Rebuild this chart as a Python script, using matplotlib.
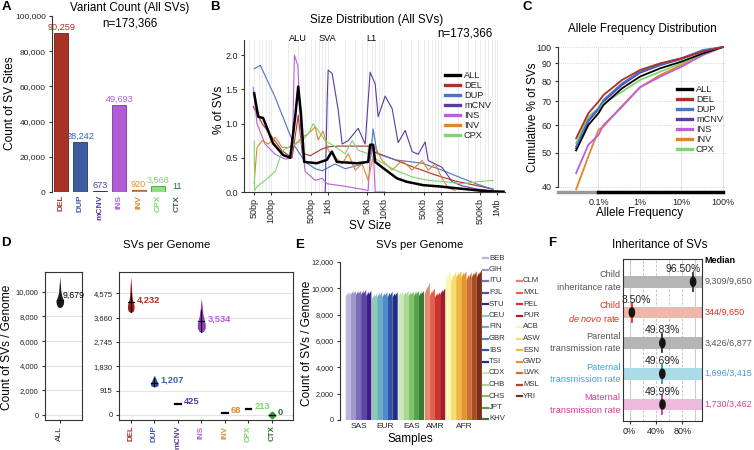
import numpy as np
import matplotlib.pyplot as plt
from matplotlib.lines import Line2D
from matplotlib.patches import Ellipse
from matplotlib.ticker import FuncFormatter, NullFormatter, NullLocator

plt.rcParams['font.family'] = ['Liberation Sans', 'DejaVu Sans']
plt.rcParams['mathtext.fontset'] = 'custom'
plt.rcParams['mathtext.rm'] = 'Liberation Sans'
plt.rcParams['mathtext.it'] = 'Liberation Sans:italic'
plt.rcParams['font.size'] = 6.5
plt.rcParams['axes.edgecolor'] = '#333333'
plt.rcParams['axes.linewidth'] = 0.8
plt.rcParams['xtick.color'] = '#333333'
plt.rcParams['ytick.color'] = '#333333'
plt.rcParams['xtick.labelcolor'] = '#222222'
plt.rcParams['ytick.labelcolor'] = '#222222'
plt.rcParams['xtick.major.size'] = 2.5
plt.rcParams['ytick.major.size'] = 2.5
plt.rcParams['xtick.major.pad'] = 2
plt.rcParams['ytick.major.pad'] = 2

#--------------------------------------------------------------#
# data
sv_types = ['DEL', 'DUP', 'mCNV', 'INS', 'INV', 'CPX', 'CTX']
sv_counts = [90259, 28242, 673, 49693, 920, 3568, 11]
sv_fill = ['#a93226', '#3c5da0', '#4b2d8c', '#b15bd6', '#e0862a', '#8fe07f', '#2e6b2e']
sv_edge = ['#6e1e18', '#233a6e', '#2e1a5e', '#7a3a99', '#9a5a1a', '#4e9a45', '#1e4a1e']
sv_text = ['#b03020', '#3c5da8', '#5b3a9e', '#b55fd8', '#e08a2c', '#79d66a', '#2f6e2f']

# panel B: size distribution (size in bp, % of SVs)
size_all = [50, 59, 72, 108, 163, 217, 266, 301, 336, 384, 644, 968, 1186, 1455, 3289, 5212,
            5649, 6383, 6934, 9603, 16790, 25000, 49000, 100000, 166000, 666000, 1300000]
pct_all = [1.44, 1.10, 1.08, 0.71, 0.54, 0.50, 1.10, 1.54, 1.15, 0.44, 0.42, 0.47, 0.59, 0.44, 0.42, 0.44,
           0.69, 0.69, 0.44, 0.35, 0.20, 0.15, 0.10, 0.08, 0.06, 0.01, 0.005]
size_del = [48, 69, 104, 157, 235, 301, 354, 490, 800, 1020, 1535, 3300, 5212, 5649, 6934, 15660,
            31330, 80000, 181000, 461000, 850000]
pct_del = [1.25, 1.0, 0.8, 0.6, 0.5, 1.12, 0.57, 0.53, 0.63, 0.66, 0.67, 0.67, 0.67, 0.65, 0.58, 0.47,
           0.37, 0.25, 0.16, 0.09, 0.04]
size_dup = [50, 64, 78, 118, 157, 200, 266, 400, 601, 800, 1358, 2042, 3467, 5649, 6383, 7516,
            15660, 47100, 106000, 240000, 461000, 850000]
pct_dup = [1.80, 1.85, 1.70, 1.38, 1.12, 0.90, 0.66, 0.44, 0.34, 0.31, 0.41, 0.34, 0.39, 0.46, 0.92, 0.56,
           0.47, 0.42, 0.32, 0.20, 0.11, 0.04]
size_mcnv = [903, 980, 1020, 1202, 1535, 1807, 2307, 3467, 4613, 5649, 6934, 7834, 10420, 13840,
             17700, 23560, 31330, 40000, 53200, 60100, 106000, 160000, 240000, 461000, 850000]
pct_mcnv = [0.0, 1.35, 1.78, 1.73, 1.20, 0.70, 0.75, 0.93, 0.70, 1.75, 1.58, 1.10, 1.40, 1.22,
            0.72, 0.90, 0.59, 0.55, 0.73, 0.46, 0.36, 0.15, 0.09, 0.04, 0.02]
size_ins = [48, 56, 78, 118, 177, 235, 258, 297, 340, 400, 601, 800, 980, 1807, 4083, 5212,
            5649, 6383, 6934, 10420]
pct_ins = [1.53, 1.0, 0.70, 0.55, 0.48, 0.50, 2.00, 1.84, 0.77, 0.30, 0.17, 0.20, 0.12, 0.09, 0.04, 0.02,
           0.5, 0.66, 0.0, 0.0]
size_inv = [50, 56, 69, 89, 118, 157, 200, 266, 354, 452, 601, 679, 832, 1020, 1358, 1807, 2307,
            3069, 4083, 5212, 6934, 9226, 13840, 20840, 31330, 47100, 60100, 80000, 106000, 136000, 181000]
pct_inv = [0.13, 0.65, 0.75, 0.70, 0.80, 0.65, 0.65, 0.70, 0.80, 0.85, 0.95, 0.76, 0.89, 0.61, 0.51, 0.41, 0.56,
           0.32, 0.41, 0.17, 0.66, 0.46, 0.32, 0.46, 0.32, 0.46, 0.32, 0.41, 0.20, 0.06, 0.02]
size_cpx = [50, 51, 56, 78, 118, 157, 200, 266, 354, 452, 554, 679, 903, 1358, 2042, 2716, 3467,
            5212, 7834, 15660, 31330, 60100, 120000, 240000, 461000, 850000]
pct_cpx = [0.74, 0.02, 0.08, 0.17, 0.30, 0.60, 0.65, 0.70, 0.75, 0.85, 1.00, 0.90, 0.75, 0.66, 0.56, 0.75, 0.61,
           0.56, 0.46, 0.32, 0.22, 0.17, 0.15, 0.12, 0.15, 0.17]
size_ticks = [50, 100, 500, 1000, 5000, 10000, 50000, 100000, 500000, 1000000]
size_labels = ['50bp', '100bp', '500bp', '1Kb', '5Kb', '10Kb', '50Kb', '100Kb', '500Kb', '1Mb']

# panel C: cumulative allele frequency (AF in %)
af_pct = [0.029, 0.057, 0.1, 0.132, 0.37, 1.0, 3.1, 10, 33, 100]
cum_all = [50.8, 60.0, 64.8, 68.4, 76.3, 82.4, 87.0, 90.9, 95.9, 100]
cum_del = [55.0, 64.8, 69.9, 73.0, 80.6, 86.0, 89.9, 92.9, 97.0, 100]
cum_dup = [52.1, 62.1, 67.0, 70.7, 78.8, 85.1, 89.3, 92.9, 98.1, 100]
cum_mcnv = [51.5, 61.5, 66.5, 70.0, 78.0, 84.5, 88.8, 92.5, 97.5, 100]
cum_ins = [43.8, 52.7, 56.2, 60.0, 67.6, 76.8, 82.4, 87.9, 94.9, 100]
cum_inv = [39.4, 48.8, 58.1, 59.4, 68.0, 76.8, 83.3, 88.9, 95.9, 100]
cum_cpx = [53.2, 63.4, 67.0, 69.2, 74.6, 80.6, 85.1, 89.9, 95.9, 100]

# panel D: SVs per genome (medians + violin outlines: value, half width)
med_all = 9679
vio_all_y = [8700, 8800, 9000, 9300, 9600, 10000, 10500, 11200]
vio_all_w = [0.0, 0.12, 0.19, 0.21, 0.12, 0.06, 0.035, 0.0]
per_genome = [4232, 1207, 425, 3534, 68, 213, 0]
vio_del_y = [3850, 3900, 4000, 4100, 4200, 4350, 4500, 4800, 5200]
vio_del_w = [0.0, 0.10, 0.14, 0.14, 0.12, 0.07, 0.045, 0.03, 0.0]
vio_dup_y = [1050, 1100, 1200, 1300, 1400, 1500]
vio_dup_w = [0.0, 0.15, 0.17, 0.10, 0.05, 0.0]
vio_ins_y = [3095, 3150, 3270, 3420, 3570, 3750, 3950, 4150, 4400]
vio_ins_w = [0.0, 0.10, 0.17, 0.17, 0.13, 0.08, 0.05, 0.03, 0.0]
vio_bar_lo = [3880, 1100, None, 3130]
vio_bar_hi = [4600, 1380, None, 3950]
d_ticks = [0, 915, 1830, 2745, 3660, 4575]

# panel E: SVs per genome by population (min, max count)
pops = ['BEB', 'GIH', 'ITU', 'PJL', 'STU', 'CEU', 'FIN', 'GBR', 'IBS', 'TSI',
        'CDX', 'CHB', 'CHS', 'JPT', 'KHV', 'CLM', 'MXL', 'PEL', 'PUR',
        'ACB', 'ASW', 'ESN', 'GWD', 'LWK', 'MSL', 'YRI']
pop_group = ['SAS'] * 5 + ['EUR'] * 5 + ['EAS'] * 5 + ['AMR'] * 4 + ['AFR'] * 7
pop_lo = [9400, 9500, 9500, 9500, 9400, 9200, 9300, 9300, 9300, 9300,
          9400, 9400, 9400, 9400, 9400, 9500, 9400, 9300, 9500,
          10600, 10500, 10800, 10800, 10600, 10800, 10800]
pop_hi = [9700, 9800, 9800, 9850, 9800, 9600, 9700, 9700, 9750, 9700,
          9750, 9800, 9750, 9800, 9800, 10450, 10000, 9700, 10000,
          11400, 11300, 11300, 11300, 11200, 11300, 11400]
pop_colors = ['#bdb6dc', '#9f97ca', '#7c6db7', '#5d46a4', '#3c1d89',
              '#8fcab4', '#6aaec2', '#4d8cc9', '#2f56a6', '#232c86',
              '#cbe7b7', '#a9d895', '#80c16b', '#57a34b', '#367b37',
              '#e7856d', '#e0614d', '#cc3434', '#a31d2d',
              '#fdf5b2', '#f6dd72', '#efb93b', '#e3932f', '#cd6f2f', '#a84b27', '#7a3018']
groups = ['SAS', 'EUR', 'EAS', 'AMR', 'AFR']

# panel F: inheritance
row_l1 = ['Child', 'Child', 'Parental', 'Paternal', 'Maternal']
row_l2 = ['inheritance rate', r'$\mathit{de\ novo}$ rate', 'transmission rate',
          'transmission rate', 'transmission rate']
row_pct = [96.50, 3.50, 49.83, 49.69, 49.99]
row_frac = ['9,309/9,650', '344/9,650', '3,426/6,877', '1,696/3,415', '1,730/3,462']
band_colors = ['#b5b5b5', '#edb8a9', '#b5b5b5', '#a9dbe9', '#ebbadc']
text_colors = ['#555555', '#e0301e', '#555555', '#3fa4d8', '#d63d96']
line_colors = ['#333333', '#e0301e', '#333333', '#2e8fd0', '#d6338f']

#--------------------------------------------------------------#
W, H = 754, 450
fig = plt.figure(figsize=(W / 100, H / 100), dpi=100)

def px_axes(l, t, r, b):
    return fig.add_axes([l / W, 1 - b / H, (r - l) / W, (b - t) / H])

def ftext(x, y, s, **kw):
    kw.setdefault('ha', 'center')
    kw.setdefault('va', 'center')
    fig.text(x / W, 1 - y / H, s, **kw)

def px_legend(x, y, step, entries, length=15, lw=2.4, fs=6.6):
    for k, (name, col) in enumerate(entries):
        yy = y + k * step
        fig.add_artist(Line2D([x / W, (x + length) / W], [1 - yy / H] * 2, color=col, lw=lw))
        ftext(x + length + 4, yy, name, ha='left', fontsize=fs, color='#222222')

comma = FuncFormatter(lambda v, p: f'{int(round(v)):,}')

# panel letters and titles
for letter, x, y in [('A', 6, 7), ('B', 215, 7), ('C', 527, 7), ('D', 6, 243), ('E', 300, 245), ('F', 552, 243)]:
    ftext(x, y, letter, fontsize=9.5, fontweight='bold')
ftext(130, 8, 'Variant Count (All SVs)', fontsize=8.4)
ftext(130, 23, 'n=173,366', fontsize=8.4)
ftext(377, 20, 'Size Distribution (All SVs)', fontsize=8.4)
ftext(493, 33, 'n=173,366', fontsize=8.4, ha='right')
ftext(642, 29, 'Allele Frequency Distribution', fontsize=8.4)
ftext(167, 245, 'SVs per Genome', fontsize=8.2)
ftext(420, 245, 'SVs per Genome', fontsize=8.2)
ftext(660, 245, 'Inheritance of SVs', fontsize=8.4)

#--------------------------------------------------------------#
# A: variant counts
axA = px_axes(52, 16, 186, 192)
x = np.arange(len(sv_types))
axA.bar(x, sv_counts, width=0.72, color=sv_fill, edgecolor=sv_edge, linewidth=0.6)
for i, c in enumerate(sv_counts):
    axA.text(i, c + 600, f'{c:,}', ha='center', va='bottom', color=sv_text[i], fontsize=6.6)
axA.set_ylim(0, 100000)
axA.set_xlim(-0.47, 6.45)
axA.set_yticks(np.arange(0, 100001, 20000))
axA.yaxis.set_major_formatter(comma)
axA.tick_params(axis='y', labelsize=6)
axA.set_xticks(x)
axA.set_xticklabels(sv_types, rotation=90, fontweight='bold', fontsize=6)
for lab, col in zip(axA.get_xticklabels(), sv_text):
    lab.set_color(col)
axA.tick_params(axis='x', length=0, pad=2)
for s in ['top', 'right', 'bottom']:
    axA.spines[s].set_visible(False)
ftext(10, 103, 'Count of SV Sites', fontsize=8.6, rotation=90)

#--------------------------------------------------------------#
# B: size distribution
axB = px_axes(244, 40, 505, 192)
axB.set_xscale('log')
axB.set_xlim(33, 1.38e6)
axB.set_ylim(0, 2.22)
axB.grid(True, which='both', axis='x', color='#e8e8e8', lw=0.6)
axB.set_axisbelow(True)
series_b = [('ALL', 'black'), ('DEL', sv_fill[0]), ('DUP', '#4a74c4'), ('mCNV', '#5a3aa8'),
            ('INS', '#bb5fdc'), ('INV', '#e0862a'), ('CPX', '#7fd66e')]
axB.plot(size_del, pct_del, color=sv_fill[0], lw=0.8)
axB.plot(size_dup, pct_dup, color='#4a74c4', lw=0.8)
axB.plot(size_mcnv, pct_mcnv, color='#5a3aa8', lw=0.8)
axB.plot(size_ins, pct_ins, color='#bb5fdc', lw=0.8)
axB.plot(size_inv, pct_inv, color='#e0862a', lw=0.8)
axB.plot(size_cpx, pct_cpx, color='#7fd66e', lw=0.8)
axB.plot(size_all, pct_all, color='black', lw=1.8, zorder=5)
px_legend(445, 75, 10, series_b)
axB.set_xticks(size_ticks)
axB.set_xticklabels(size_labels, rotation=90)
axB.xaxis.set_minor_formatter(NullFormatter())
axB.tick_params(axis='x', which='minor', length=0)
axB.set_yticks([0, 0.5, 1.0, 1.5, 2.0])
axB.yaxis.set_major_formatter(FuncFormatter(lambda v, p: f'{v:.1f}'))
for s in ['top', 'right']:
    axB.spines[s].set_visible(False)
for name, sx in [('ALU', 300), ('SVA', 1000), ('L1', 6000)]:
    axB.text(sx, 2.17, name, ha='center', va='bottom', fontsize=6.6)
ftext(219, 110, '% of SVs', fontsize=8.5, rotation=90)
ftext(370, 226, 'SV Size', fontsize=8.6)

#--------------------------------------------------------------#
# C: allele frequency
axC = px_axes(558, 45.5, 725, 192)
axC.set_xscale('log')
axC.set_yscale('log')
axC.set_xlim(0.0106, 112)
axC.set_ylim(38.7, 101)
axC.plot(af_pct, cum_mcnv, color='#5a3aa8', lw=1.3)
axC.plot(af_pct, cum_inv, color='#e0862a', lw=1.3)
axC.plot(af_pct, cum_ins, color='#bb5fdc', lw=1.3)
axC.plot(af_pct, cum_cpx, color='#7fd66e', lw=1.3)
axC.plot(af_pct, cum_all, color='black', lw=1.3)
axC.plot(af_pct, cum_dup, color='#4a74c4', lw=1.3)
axC.plot(af_pct, cum_del, color=sv_fill[0], lw=1.3)
yt = [40, 50, 60, 70, 80, 90, 100]
axC.set_yticks(yt)
axC.set_yticklabels([str(v) for v in yt])
axC.yaxis.set_minor_locator(NullLocator())
axC.set_xticks([0.1, 1, 10, 100])
axC.set_xticklabels(['0.1%', '1%', '10%', '100%'])
axC.xaxis.set_minor_locator(NullLocator())
axC.tick_params(axis='x', length=0, pad=4)
for v in yt:
    axC.axhline(v, color='#cccccc', lw=0.6, ls=':', zorder=0)
for v in [0.1, 1, 10, 100]:
    axC.axvline(v, color='#dddddd', lw=0.6, zorder=0)
axC.spines['left'].set_bounds(40, 100)
for s in ['top', 'right', 'bottom']:
    axC.spines[s].set_visible(False)
# rug of allele frequencies along x axis
axC.plot([0.0106, 0.095], [0, 0], color='#999999', lw=2.5, transform=axC.get_xaxis_transform(), clip_on=False)
axC.plot([0.1, 100], [0, 0], color='black', lw=2.5, transform=axC.get_xaxis_transform(), clip_on=False)
px_legend(677, 89, 10, series_b)
ftext(533, 117, 'Cumulative % of SVs', fontsize=8.4, rotation=90)
ftext(640, 213, 'Allele Frequency', fontsize=8.4)

#--------------------------------------------------------------#
# D: SVs per genome (violins)
axD1 = px_axes(45, 272, 82, 420)
axD1.fill_betweenx(vio_all_y, -np.array(vio_all_w), vio_all_w, color='#1a1a1a', lw=0)
axD1.plot([-0.15, 0.15], [9300, 9300], color='black', lw=0.8)
axD1.text(0.17, med_all, f'{med_all:,}', ha='left', va='center', fontsize=6.3)
axD1.set_xlim(-0.8, 1.2)
axD1.set_ylim(-400, 11600)
axD1.set_yticks(np.arange(0, 10001, 2000))
axD1.yaxis.set_major_formatter(comma)
axD1.tick_params(axis='y', labelsize=5.5)
axD1.set_xticks([0])
axD1.set_xticklabels(['ALL'], rotation=90, fontsize=6)
axD1.grid(True, axis='y', color='#e3e3e3', lw=0.8)
axD1.set_axisbelow(True)
ftext(7, 347, 'Count of SVs / Genome', fontsize=8.6, rotation=90)

axD2 = px_axes(119, 272, 293, 420)
vio_cols = ['#9e1b1b', '#2c4b9b', None, '#8e3db5']
for i, (vy, vw) in enumerate([(vio_del_y, vio_del_w), (vio_dup_y, vio_dup_w), (None, None), (vio_ins_y, vio_ins_w)]):
    if vy is None:
        continue
    axD2.fill_betweenx(vy, i - np.array(vw), i + np.array(vw), color=vio_cols[i], lw=0)
    m = per_genome[i]
    axD2.plot([i - 0.13, i + 0.13], [m, m], color='black', lw=0.8)
    axD2.plot([i, i], [vio_bar_lo[i], vio_bar_hi[i]], color='black', lw=0.8)
for i in [2, 4, 5]:
    axD2.plot([i - 0.12, i + 0.12], [per_genome[i]] * 2, color='black', lw=1.6)
axD2.plot([6], [per_genome[6]], marker='D', ms=3.5, color='#3f9a3f')
axD2.plot([5.88, 6.12], [per_genome[6]] * 2, color='black', lw=1)
for i, v in enumerate(per_genome):
    axD2.text(i + 0.26, v + 90, f'{v:,}', ha='left', va='center', fontsize=6.7,
              color=sv_text[i], fontweight='bold')
axD2.set_xlim(-0.5, 6.9)
axD2.set_ylim(-188, 5376)
axD2.set_yticks(d_ticks)
axD2.yaxis.set_major_formatter(comma)
axD2.tick_params(axis='y', labelsize=5.5)
axD2.tick_params(axis='x', pad=1.5)
axD2.set_xticks(range(7))
axD2.set_xticklabels(sv_types, rotation=90, fontweight='bold', fontsize=5.7)
for lab, col in zip(axD2.get_xticklabels(), sv_text):
    lab.set_color(col)
axD2.grid(True, axis='y', color='#e3e3e3', lw=0.8)
axD2.set_axisbelow(True)

#--------------------------------------------------------------#
# E: per-population counts
axE = px_axes(340, 262, 485, 420)
gap = 0.12
xpos = []
cur = 0.0
prev = pop_group[0]
for g in pop_group:
    if g != prev:
        cur += gap
        prev = g
    xpos.append(cur)
    cur += 1
for x0, lo, hi, col in zip(xpos, pop_lo, pop_hi, pop_colors):
    axE.fill([x0, x0, x0 + 0.5, x0 + 0.5, x0 + 1, x0 + 1],
             [0, lo, (lo + hi) / 2 + 150, (lo + hi) / 2 - 50, hi, 0], color=col, lw=0)
centers = []
for g in groups:
    xs = [xp for xp, gg in zip(xpos, pop_group) if gg == g]
    centers.append((min(xs) + max(xs) + 1) / 2)
axE.set_xlim(-1.1, cur + 0.6)
axE.set_ylim(0, 12000)
axE.set_xticks(centers)
axE.set_xticklabels(groups, fontsize=6)
axE.tick_params(axis='x', length=0, pad=2)
axE.set_yticks(np.arange(0, 12001, 2000))
axE.yaxis.set_major_formatter(comma)
axE.tick_params(axis='y', labelsize=5.2)
for s in ['top', 'right', 'bottom']:
    axE.spines[s].set_visible(False)
ftext(307, 343, 'Count of SVs / Genome', fontsize=8.6, rotation=90)
ftext(410, 439, 'Samples', fontsize=8.5)

# legend for populations, two columns
for i, (p, col) in enumerate(zip(pops, pop_colors)):
    if i < 15:
        lx, ly = 483, 258 + i * 11.5
    else:
        lx, ly = 517, 258 + (i - 15 + 2) * 11.5
    fig.add_artist(Line2D([lx / W, (lx + 5) / W], [1 - ly / H] * 2, color=col, lw=1.6))
    ftext(lx + 6, ly, p, ha='left', fontsize=5.6, color='#333333')

#--------------------------------------------------------------#
# F: inheritance
axF = px_axes(623, 259, 702, 421)
rows = np.arange(len(row_pct))
for r in rows:
    axF.axhspan(r - 0.19, r + 0.19, color=band_colors[r], lw=0, zorder=1)
for v in [20, 40, 60, 80]:
    axF.axvline(v, color='#bbbbbb', lw=0.6, ls=(0, (3, 2)), zorder=0)
for v in [0, 100]:
    axF.axvline(v, color='#cccccc', lw=0.8, zorder=0)
for r, p in enumerate(row_pct):
    axF.plot([p, p], [r - 0.3, r + 0.3], color=line_colors[r], lw=1.3, zorder=3)
    axF.add_patch(Ellipse((p, r), 8, 0.3, color='#151515', zorder=4))
    axF.text(np.clip(p, 10, 82), r - 0.25, f'{p:.2f}%', ha='center', va='bottom', fontsize=7.5, color='#222222')
    axF.text(-14, r - 0.22, row_l1[r], ha='right', va='center', fontsize=6.6, color=text_colors[r])
    axF.text(-14, r + 0.19, row_l2[r], ha='right', va='center', fontsize=6.6, color=text_colors[r])
    axF.text(114, r, row_frac[r], ha='left', va='center', fontsize=6.5, color=text_colors[r])
axF.text(114, -0.68, 'Median', ha='left', va='center', fontsize=6.5, fontweight='bold')
axF.set_xlim(-10, 110)
axF.set_ylim(4.54, -0.74)
axF.set_yticks([])
axF.set_xticks([0, 40, 80])
axF.set_xticklabels(['0%', '40%', '80%'], fontsize=6.5)

fig.savefig('out.png', dpi=100)
